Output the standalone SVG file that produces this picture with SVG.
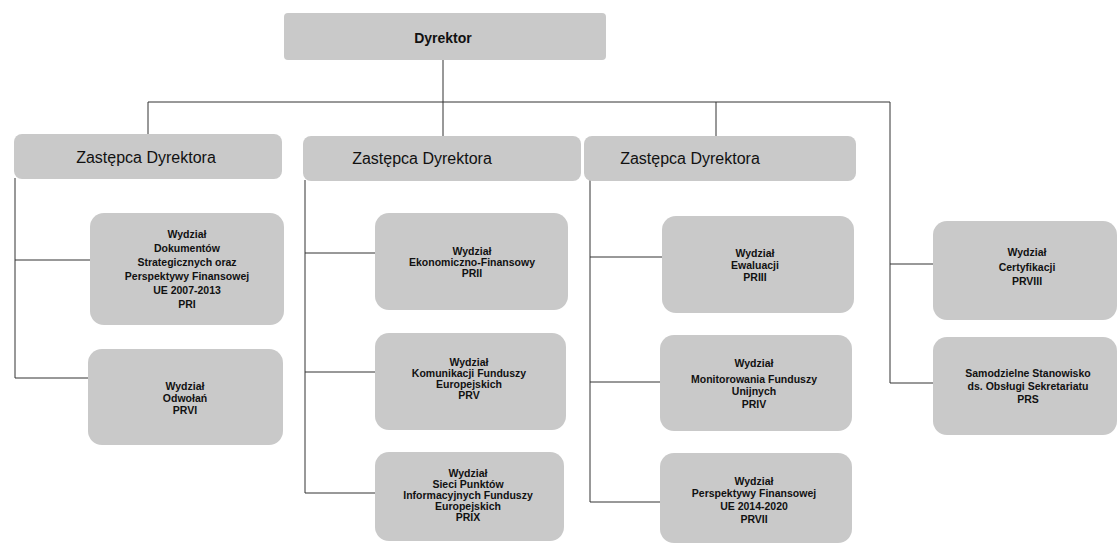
<svg xmlns="http://www.w3.org/2000/svg" width="1119" height="545" viewBox="0 0 1119 545">
<style>
.box{fill:#c9c9c9;stroke:none}
.big{font-family:"Liberation Sans",Arial,sans-serif;font-size:16px;fill:#111;text-anchor:middle}
.top{font-family:"Liberation Sans",Arial,sans-serif;font-size:14px;font-weight:bold;fill:#111;text-anchor:middle}
.sm{font-family:"Liberation Sans",Arial,sans-serif;font-size:10.5px;font-weight:bold;fill:#111;text-anchor:middle}
.ln{stroke:#333;stroke-width:1;fill:none}
</style>
<rect width="1119" height="545" fill="#fff"/>
<g id="connectors" class="ln">
<path d="M443 60V102M148 102H890M148 102V135M443 102V137M716 102V137M890 102V383"/>
<path d="M15 178V378M15 260H90M15 378H88"/>
<path d="M305 180V493M305 253H375M305 372H375M305 493H375"/>
<path d="M590 180V502M590 257H662M590 382H660M590 502H660"/>
<path d="M890 264H933M890 383H933"/>
</g>
<g id="dyrektor"><rect class="box" x="284" y="13" width="322" height="47" rx="4"/><text class="top" x="443" y="43">Dyrektor</text></g>
<g id="zastepca1"><rect class="box" x="14" y="134" width="268" height="45" rx="8"/><text class="big" x="146" y="163">Zastępca Dyrektora</text></g>
<g id="zastepca2"><rect class="box" x="303" y="136" width="278" height="45" rx="8"/><text class="big" x="422" y="164">Zastępca Dyrektora</text></g>
<g id="zastepca3"><rect class="box" x="584" y="136" width="272" height="45" rx="8"/><text class="big" x="690" y="164">Zastępca Dyrektora</text></g>
<g id="pri"><rect class="box" x="90" y="213" width="194" height="112" rx="14"/>
<text class="sm" x="187" y="238">Wydział</text><text class="sm" x="187" y="252">Dokumentów</text><text class="sm" x="187" y="266">Strategicznych oraz</text><text class="sm" x="187" y="280">Perspektywy Finansowej</text><text class="sm" x="187" y="294">UE 2007-2013</text><text class="sm" x="187" y="308">PRI</text></g>
<g id="prvi"><rect class="box" x="88" y="349" width="195" height="96" rx="14"/>
<text class="sm" x="185" y="390">Wydział</text><text class="sm" x="185" y="402">Odwołań</text><text class="sm" x="185" y="414">PRVI</text></g>
<g id="prii"><rect class="box" x="375" y="213" width="193" height="97" rx="14"/>
<text class="sm" x="472" y="255">Wydział</text><text class="sm" x="472" y="266">Ekonomiczno-Finansowy</text><text class="sm" x="472" y="277">PRII</text></g>
<g id="prv"><rect class="box" x="375" y="333" width="191" height="97" rx="14"/>
<text class="sm" x="469" y="366">Wydział</text><text class="sm" x="469" y="377">Komunikacji Funduszy</text><text class="sm" x="469" y="388">Europejskich</text><text class="sm" x="469" y="399">PRV</text></g>
<g id="prix"><rect class="box" x="375" y="452" width="189" height="89" rx="14"/>
<text class="sm" x="468" y="477">Wydział</text><text class="sm" x="468" y="488">Sieci Punktów</text><text class="sm" x="468" y="499">Informacyjnych Funduszy</text><text class="sm" x="468" y="510">Europejskich</text><text class="sm" x="468" y="521">PRIX</text></g>
<g id="priii"><rect class="box" x="662" y="216" width="192" height="97" rx="14"/>
<text class="sm" x="755" y="257">Wydział</text><text class="sm" x="755" y="269">Ewaluacji</text><text class="sm" x="755" y="281">PRIII</text></g>
<g id="priv"><rect class="box" x="660" y="335" width="192" height="96" rx="14"/>
<text class="sm" x="754" y="367">Wydział</text><text class="sm" x="754" y="383">Monitorowania Funduszy</text><text class="sm" x="754" y="395">Unijnych</text><text class="sm" x="754" y="408">PRIV</text></g>
<g id="prvii"><rect class="box" x="660" y="453" width="192" height="90" rx="14"/>
<text class="sm" x="754" y="485">Wydział</text><text class="sm" x="754" y="497">Perspektywy Finansowej</text><text class="sm" x="754" y="510">UE 2014-2020</text><text class="sm" x="754" y="523">PRVII</text></g>
<g id="prviii"><rect class="box" x="933" y="221" width="184" height="99" rx="14"/>
<text class="sm" x="1027" y="256">Wydział</text><text class="sm" x="1027" y="271">Certyfikacji</text><text class="sm" x="1027" y="285">PRVIII</text></g>
<g id="prs"><rect class="box" x="933" y="337" width="184" height="98" rx="14"/>
<text class="sm" x="1028" y="377">Samodzielne Stanowisko</text><text class="sm" x="1028" y="390">ds. Obsługi Sekretariatu</text><text class="sm" x="1028" y="403">PRS</text></g>
</svg>
